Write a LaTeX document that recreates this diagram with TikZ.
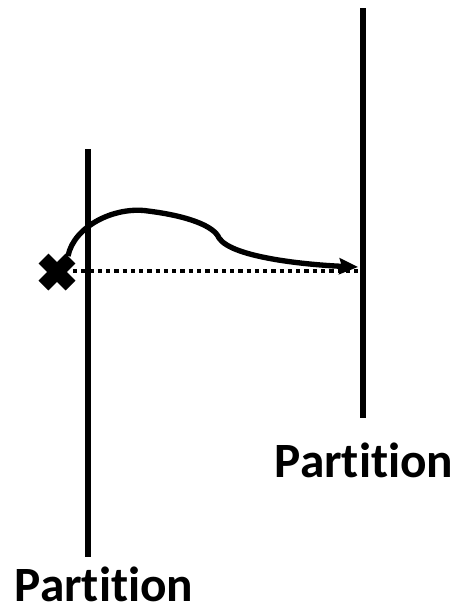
\documentclass[tikz,border=0pt]{standalone}
\usepackage{fontspec}
\setmainfont[Ligatures=NoCommon]{Carlito}
\usetikzlibrary{arrows.meta,calc}
\begin{document}
\begin{tikzpicture}[x=0.75pt,y=-0.75pt,
  partline/.style={line width=4pt},
  lbl/.style={font=\bfseries\fontsize{37}{42}\selectfont, inner sep=0pt},
  dotline/.style={line width=3.2pt, dash pattern=on 3.2pt off 3pt},
  crossarm/.style={line width=10.5pt},
  curvearrow/.style={line width=4pt, -{Stealth[length=14pt,width=12pt,inset=2pt]}}]
\useasboundingbox (0,0) rectangle (455,611);
% partitions
\coordinate (L1) at (88,149);
\coordinate (L2) at (88,557);
\coordinate (R1) at (363,8);
\coordinate (R2) at (363,418);
\draw[partline] (L1) -- (L2);
\draw[partline] (R1) -- (R2);
\node[lbl, anchor=base] (labL) at (104,601) {Partition};
\node[lbl, anchor=base] (labR) at (364,477) {Partition};
% dotted line
\coordinate (D1) at (73,271);
\coordinate (D2) at (361,271);
\draw[dotline] (D1) -- (D2);
% cross
\coordinate (X) at (57,272);
\draw[crossarm] ($(X)+(-13.5,-13.5)$) -- ($(X)+(13.5,13.5)$);
\draw[crossarm] ($(X)+(-13.5,13.5)$) -- ($(X)+(13.5,-13.5)$);
% curve
\coordinate (C0) at (68,256);
\coordinate (C1) at (148,211);
\coordinate (C2) at (219,238);
\coordinate (C3) at (358,267);
\draw[curvearrow] (C0) .. controls (74,226) and (115,206) .. (C1)
  .. controls (188,216) and (214,226) .. (C2)
  .. controls (232,258) and (310,265) .. (C3);
\end{tikzpicture}
\end{document}
